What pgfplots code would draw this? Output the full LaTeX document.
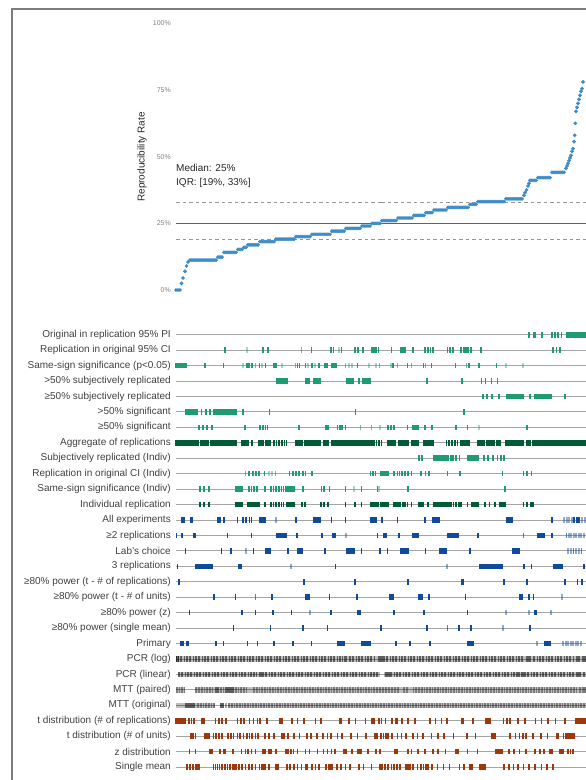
\documentclass[border=0pt]{standalone}
\usepackage{fontspec}
\setmainfont{Liberation Sans}
\usepackage{pgfplots}
\usepackage{pgfplotstable}
\pgfplotsset{compat=1.18}
\definecolor{cgreen}{RGB}{30,155,115}
\definecolor{cdgreen}{RGB}{0,92,55}
\definecolor{cblue}{RGB}{16,74,156}
\definecolor{cbrown}{RGB}{158,56,10}
\definecolor{cpt}{RGB}{60,140,200}
\definecolor{ctxt}{RGB}{64,64,64}
\definecolor{cline}{RGB}{165,165,165}
\definecolor{ctick}{RGB}{130,130,130}
\definecolor{cborder}{RGB}{125,125,125}
\definecolor{cdash}{RGB}{150,150,150}
\definecolor{cmed}{RGB}{225,45,35}
\pgfplotsset{
  seg/.style 2 args={draw=none, mark=none, error bars/.cd, x dir=both, x explicit, error mark=none,
    error bar style={draw=#1, line width=5.6pt, line cap=butt, opacity=#2}},
}

\pgfplotstableread[row sep=\\]{
r a b\\
1 352.7 352.7\\1 357.7 357.7\\1 359.3 359.3\\1 366 366\\1 375.7 375.7\\1 378.7 378.7\\1 382 382\\1 385.3 385.3\\1 390.3 410\\
2 48.7 48.7\\2 86.7 86.7\\2 92 92\\2 135.3 135.3\\2 154.7 154.7\\2 157.3 157.3\\2 165.3 165.3\\2 178.7 178.7\\2 182 182\\2 186.7 186.7\\2 196 196\\2 198 198\\2 200 200\\2 202.3 202.3\\2 215.3 215.3\\2 224.7 224.7\\2 226.7 226.7\\2 228.7 228.7\\2 236.7 236.7\\2 248.7 248.7\\2 252 252\\2 254.3 254.3\\2 256.7 256.7\\2 271.3 271.3\\2 274 274\\2 276.7 276.7\\2 284.7 284.7\\2 288 288\\2 290 290\\2 292 292\\2 294.7 294.7\\2 304.7 304.7\\2 377 377\\2 380.3 380.3\\2 383.7 383.7\\
3 0 10\\3 28.7 28.7\\3 47.3 47.3\\3 70.7 70.7\\3 72.7 72.7\\3 76 76\\3 83.3 83.3\\3 89.3 89.3\\3 97.7 97.7\\3 100 100\\3 121.3 121.3\\3 123.3 123.3\\3 129.3 129.3\\3 136 136\\3 142.7 142.7\\3 148.7 148.7\\3 150.7 150.7\\3 156 160\\3 181.3 181.3\\3 217 217\\3 231.3 231.3\\3 247.3 247.3\\3 255.3 255.3\\3 279.3 279.3\\3 292.7 292.7\\3 303 303\\3 320.3 320.3\\
4 101 101\\4 103 103\\4 105 105\\4 107 107\\4 109 109\\4 111 111\\4 130 133.3\\4 137.3 140\\4 141 144.7\\4 171 177.7\\4 182.7 182.7\\4 186.7 189\\4 190.5 194\\4 251 251\\4 286 286\\4 305.3 305.3\\4 309.3 309.3\\4 315.3 315.3\\4 321.3 321.3\\
5 307 307\\5 311 311\\5 316 316\\5 322.7 322.7\\5 330.3 347\\5 353.7 353.7\\5 358.7 360.5\\5 362 375.3\\5 388.7 388.7\\
6 10 21\\6 25.3 25.3\\6 30 30\\6 34 34\\6 37.3 48\\6 49.3 60\\6 66.7 66.7\\6 93.3 93.3\\6 179.3 179.3\\6 287.7 287.7\\
7 22.7 22.7\\7 26.7 26.7\\7 30.7 30.7\\7 36 36\\7 68.7 68.7\\7 84 84\\7 86.7 86.7\\7 89.3 89.3\\7 91.3 91.3\\7 122.7 122.7\\7 150 150\\7 152 152\\7 161.3 161.3\\7 163.7 163.7\\7 166 166\\7 169.3 169.3\\7 212 212\\7 215 215\\7 218 218\\7 231.3 231.3\\7 237 242\\7 248.7 248.7\\7 256 256\\7 279.7 279.7\\7 291.3 291.3\\7 351 351\\
9 242.7 242.7\\9 246 246\\9 257.3 270\\9 272 272\\9 274.5 274.5\\9 277 277\\9 280 280\\9 283.3 283.3\\9 292 296\\9 297.5 302\\9 308 308\\9 312 312\\9 316.7 316.7\\9 321.3 321.3\\9 324.7 324.7\\9 328 328\\
10 72.7 72.7\\10 76.7 76.7\\10 79.7 79.7\\10 82.7 82.7\\10 88.3 88.3\\10 113.3 113.3\\10 116.7 116.7\\10 120 120\\10 122.7 122.7\\10 126.7 126.7\\10 129.3 129.3\\10 136 136\\10 194.3 194.3\\10 196.7 196.7\\10 199.3 199.3\\10 204.7 212\\10 218 218\\10 221.3 221.3\\10 223.3 223.3\\10 226 226\\10 229 229\\10 232 232\\10 235.3 235.3\\10 244.7 244.7\\10 249.3 249.3\\10 252.7 252.7\\10 271.3 271.3\\10 284 284\\10 326.3 326.3\\10 347.3 347.3\\10 350.7 350.7\\10 355.3 355.3\\
11 24 24\\11 28 28\\11 32.7 32.7\\11 60 66\\11 72.7 72.7\\11 75.3 75.3\\11 78 78\\11 81 81\\11 88.7 88.7\\11 94.7 94.7\\11 97.3 97.3\\11 100 100\\11 102.7 102.7\\11 105.3 105.3\\11 107.3 107.3\\11 109.3 118\\11 126.7 126.7\\11 145.3 145.3\\11 148 148\\11 153.3 153.3\\11 169.3 169.3\\11 185.3 185.3\\11 201.3 201.3\\11 232 232\\11 328.7 328.7\\
}\greentab

\pgfplotstableread[row sep=\\]{
r a b\\
2 70.7 70.7\\2 125.3 125.3\\2 162.7 162.7\\3 66.7 66.7\\3 79.3 79.3\\3 86 86\\3 106 106\\3 119.3 119.3\\3 132 132\\3 138.7 138.7\\3 169.3 169.3\\3 172.7 172.7\\3 176 176\\3 192.7 192.7\\3 200 200\\3 203.5 203.5\\3 214.7 214.7\\3 221.3 221.3\\3 235.3 235.3\\3 249.3 249.3\\3 290.3 290.3\\3 329.7 329.7\\3 347 347\\7 184.3 184.3\\7 195.3 195.3\\7 203.7 203.7\\7 302.7 302.7\\10 69.3 69.3\\10 92.7 92.7\\10 96 96\\10 99.3 99.3\\11 178 178\\11 203 203\\
}\greenlight

\pgfplotstableread[row sep=\\]{
r a b\\
8 0 22.7\\8 24.3 32.7\\8 34.3 60\\8 66 72\\8 76 76\\8 82.7 87.7\\8 89.3 94.3\\8 97.7 97.7\\8 100.3 100.3\\8 103 103\\8 105.7 105.7\\8 108.3 108.3\\8 110.5 110.5\\8 119.3 126\\8 128.7 144.7\\8 148 152.7\\8 155.3 170.5\\8 171.5 184\\8 185.5 194\\8 195.7 195.7\\8 198 198\\8 200.5 200.5\\8 203 203\\8 205.3 205.3\\8 212 219.3\\8 222.7 232\\8 235.3 242.7\\8 247.3 257.3\\8 270.3 270.3\\8 273 273\\8 276 276\\8 279 279\\8 281.3 281.3\\8 284.7 291.3\\8 292.7 292.7\\8 302 308.7\\8 310.3 318.7\\8 320.3 324.7\\8 330 347.3\\8 350.7 354.7\\8 356.7 410\\
12 24 24\\12 28 28\\12 32.7 32.7\\12 60 66.7\\12 72 76\\12 77.5 80\\12 81.5 83.3\\12 88.7 88.7\\12 94.7 94.7\\12 97.3 97.3\\12 100 100\\12 102.7 102.7\\12 105.3 105.3\\12 107.3 107.3\\12 110.7 118.7\\12 126 126\\12 128.7 128.7\\12 144.7 144.7\\12 148 148\\12 152 152\\12 169.3 169.3\\12 178.7 178.7\\12 185.3 185.3\\12 194.7 197\\12 198.5 202.7\\12 204.7 212\\12 218 224.7\\12 226.7 226.7\\12 229 229\\12 231.5 231.5\\12 235.3 235.3\\12 242.7 247.3\\12 252 252\\12 257.3 271.3\\12 272.7 272.7\\12 275 275\\12 277.3 277.3\\12 280 280\\12 282.5 282.5\\12 284.7 284.7\\12 291.3 291.3\\12 295.3 302\\12 308.7 308.7\\12 313.3 313.3\\12 318.7 318.7\\12 324 329.3\\12 347.3 347.3\\12 350.7 350.7\\12 354.7 354.7\\12 356.7 356.7\\
}\dgreentab

\pgfplotstableread[row sep=\\]{
r a b\\
13 6 6\\13 8 8\\13 14.7 16.7\\13 42 42\\13 44 44\\13 48 48\\13 61.3 61.3\\13 66.7 66.7\\13 70 70\\13 73.3 73.3\\13 75.3 75.3\\13 83.3 89.3\\13 120 120\\13 137.3 144.7\\13 155.3 155.3\\13 169.3 169.3\\13 194.7 200.7\\13 206 206\\13 221.3 221.3\\13 248.7 248.7\\13 256.7 263.7\\13 330.7 336.7\\13 376 376\\13 398 398\\13 400.5 400.5\\13 403 403\\
14 0.5 0.5\\14 6 6\\14 17.3 19.3\\14 51.3 51.3\\14 75.3 75.3\\14 100.7 110.7\\14 120.7 120.7\\14 146 146\\14 156.7 156.7\\14 158.7 158.7\\14 201.3 201.3\\14 208 210\\14 222.7 222.7\\14 236.7 242\\14 272 282\\14 302 302\\14 361.3 368\\14 376 376\\
15 9.3 9.3\\15 45.3 45.3\\15 54.7 54.7\\15 77.3 77.3\\15 89.3 94\\15 112 112\\15 121.3 126\\15 148.7 148.7\\15 170.7 178\\15 185.3 185.3\\15 203.7 203.7\\15 211.3 211.3\\15 224.7 232\\15 249.3 249.3\\15 264 270.7\\15 293.7 293.7\\15 337 343\\
16 1.3 1.3\\16 20 36.7\\16 62.7 65.3\\16 159.3 159.3\\16 303.7 326.3\\16 348 348\\16 355.3 355.3\\16 377.3 386\\16 408 408\\
17 2.7 2.7\\17 128 128\\17 178.7 178.7\\17 232 232\\17 285.3 287.3\\17 328 328\\17 350.7 350.7\\17 388.7 388.7\\17 401.3 401.3\\17 406 406\\
18 37.7 37.7\\18 59.3 59.3\\18 96 96\\18 129.3 133.3\\18 153.3 153.3\\18 180.7 180.7\\18 213.3 217.3\\18 242.7 246.7\\18 252.7 252.7\\18 289.3 289.3\\18 344 346\\18 352.7 352.7\\18 357.3 357.3\\
19 13.3 13.3\\19 66 66\\19 79.3 79.3\\19 97 97\\19 115.3 115.3\\19 154.7 154.7\\19 182 184.7\\19 218 218\\19 247.7 247.7\\19 291.3 291.3\\19 358.7 360\\
20 57.3 57.3\\20 94.3 94.3\\20 126.7 126.7\\20 151.3 151.3\\20 204.7 204.7\\20 251 251\\20 283 283\\20 294.7 294.7\\20 353.7 353.7\\
21 4.7 4.7\\21 6.7 6.7\\21 10.7 12.7\\21 40 40\\21 47.3 47.3\\21 71.3 71.3\\21 81.3 81.3\\21 98 98\\21 116.7 116.7\\21 135.3 135.3\\21 162 168.7\\21 186 194.7\\21 219.7 219.7\\21 234 234\\21 254 254\\21 291.3 297.3\\21 368.7 374.7\\
}\bluetab

\pgfplotstableread[row sep=\\]{
r a b\\
13 100 100\\13 388 388\\13 390.5 390.5\\13 393 393\\13 395.5 395.5\\13 405.5 405.5\\13 408.7 408.7\\14 170 170\\14 347.3 347.3\\14 390.3 390.3\\14 392.7 392.7\\14 395 395\\14 397.5 397.5\\14 400 400\\14 402.5 402.5\\14 405 405\\14 407.5 407.5\\15 70 70\\15 392 392\\15 394.7 394.7\\15 397.3 397.3\\15 400 400\\15 402.7 402.7\\15 405.3 405.3\\16 114.7 114.7\\16 271 271\\18 79.3 79.3\\18 386 386\\19 133.7 133.7\\19 329.7 329.7\\19 352.7 352.7\\19 374.7 374.7\\20 271.3 271.3\\20 327 327\\21 360.7 360.7\\21 387 387\\21 389.5 389.5\\21 392 392\\21 394.5 394.5\\21 397 397\\21 399.5 399.5\\21 402 402\\21 405 405\\
}\bluelight

\pgfplotstableread[row sep=\\]{
r a b\\
26 0 9.3\\26 12.7 12.7\\26 15.3 15.3\\26 18 18\\26 25.3 28\\26 39.3 39.3\\26 42.7 42.7\\26 46 46\\26 50 50\\26 61.3 61.3\\26 64.7 64.7\\26 68 68\\26 73.3 73.3\\26 77.3 77.3\\26 81.3 81.3\\26 84 84\\26 90.7 90.7\\26 104 106\\26 116 116\\26 121.3 121.3\\26 128 128\\26 139.3 139.3\\26 144.7 144.7\\26 164 165.3\\26 172.7 172.7\\26 179.3 179.3\\26 189.3 189.3\\26 195.3 198\\26 202.7 202.7\\26 205.3 205.3\\26 209.3 209.3\\26 216 216\\26 220 221.3\\26 226 226\\26 232 232\\26 238.7 238.7\\26 254 254\\26 259.3 259.3\\26 265.3 265.3\\26 270.7 270.7\\26 285.3 287.3\\26 296.7 296.7\\26 309.3 314\\26 327.3 327.3\\26 330.7 330.7\\26 334 334\\26 342 342\\26 348.7 348.7\\26 359.3 359.3\\26 365.3 365.3\\26 372 372\\26 379.3 379.3\\26 388.7 388.7\\26 399.3 410\\
27 14.7 14.7\\27 16.7 16.7\\27 19.3 19.3\\27 28.7 33.3\\27 37.3 37.3\\27 40 40\\27 42.7 42.7\\27 46 46\\27 52 52\\27 54.7 54.7\\27 57.3 57.3\\27 61.3 61.3\\27 64 64\\27 67.3 67.3\\27 70.7 70.7\\27 73.3 73.3\\27 76 76\\27 79.3 79.3\\27 82 82\\27 88.7 88.7\\27 92.7 92.7\\27 98 98\\27 106 108.7\\27 112 112\\27 118 118\\27 123.3 123.3\\27 130.7 130.7\\27 134.7 134.7\\27 140.7 140.7\\27 146.7 146.7\\27 151.3 151.3\\27 154.7 154.7\\27 161.3 161.3\\27 166 166\\27 174.7 174.7\\27 181.3 181.3\\27 190 190\\27 198.7 201.3\\27 204.7 204.7\\27 207.3 207.3\\27 209.7 209.7\\27 212 212\\27 216 216\\27 221.3 221.3\\27 225.3 225.3\\27 230 230\\27 236.7 236.7\\27 241.3 241.3\\27 246.7 246.7\\27 255.3 255.3\\27 262 262\\27 268 268\\27 277.3 277.3\\27 290.7 290.7\\27 299.3 299.3\\27 315.3 319.3\\27 334 334\\27 339.3 339.3\\27 343.3 343.3\\27 346.7 346.7\\27 350 350\\27 356.7 356.7\\27 364.7 364.7\\27 371.3 371.3\\27 380.7 382.7\\27 387.3 387.3\\27 389.5 389.5\\27 391.7 391.7\\27 394 394\\27 396 396\\27 398 398\\
28 13.3 13.3\\28 19.3 19.3\\28 34 36.7\\28 44 44\\28 48 49.3\\28 56.7 56.7\\28 65.3 65.3\\28 69.3 69.3\\28 72 72\\28 75.3 75.3\\28 79.3 79.3\\28 86.7 89.3\\28 92.7 95.3\\28 100 100\\28 110 112\\28 114.7 114.7\\28 117.3 117.3\\28 121.3 121.3\\28 129.3 129.3\\28 133.3 133.3\\28 141.3 141.3\\28 147.3 147.3\\28 151.3 151.3\\28 155.3 155.3\\28 158.7 158.7\\28 168 170\\28 176 176\\28 182 185.3\\28 192 192\\28 200 200\\28 203.7 203.7\\28 218.7 218.7\\28 220.7 220.7\\28 232 232\\28 235.3 235.3\\28 242 242\\28 248.7 248.7\\28 256.7 256.7\\28 262 262\\28 269.3 269.3\\28 279.3 282\\28 291.3 291.3\\28 301.3 301.3\\28 320 326\\28 332.7 332.7\\28 338 338\\28 343.3 343.3\\28 350 350\\28 358.7 358.7\\28 364 364\\28 368 368\\28 373.3 376\\28 384 387.3\\28 392 392\\28 394.3 394.3\\28 396.7 396.7\\
29 10.7 10.7\\29 14 14\\29 16.7 16.7\\29 19.3 23.3\\29 37.3 37.3\\29 39.3 39.3\\29 41.3 41.3\\29 43.3 43.3\\29 46 46\\29 48.7 48.7\\29 51.3 51.3\\29 54 54\\29 56.7 60\\29 62.7 62.7\\29 66 66\\29 69.3 69.3\\29 72.7 72.7\\29 76 76\\29 79.3 79.3\\29 83.3 83.3\\29 86 89.3\\29 92.7 92.7\\29 100 102.7\\29 110.7 110.7\\29 114 114\\29 118 118\\29 121.3 121.3\\29 125.3 125.3\\29 129.3 131.3\\29 136 136\\29 139.3 139.3\\29 142.7 142.7\\29 150 150\\29 152.7 156\\29 160.7 160.7\\29 164.7 164.7\\29 169.3 169.3\\29 174 174\\29 182.7 182.7\\29 187.3 187.3\\29 195.3 195.3\\29 204 204\\29 206 206\\29 208.7 208.7\\29 212 212\\29 215.3 215.3\\29 218 218\\29 220.7 220.7\\29 224 224\\29 230 234\\29 236.7 236.7\\29 241.3 241.3\\29 244.7 244.7\\29 247.3 247.3\\29 249.7 249.7\\29 252 252\\29 256 256\\29 261.3 261.3\\29 267.3 267.3\\29 273.3 273.3\\29 283.3 283.3\\29 288 288\\29 294 296\\29 304 309.3\\29 328 328\\29 332.7 332.7\\29 337.3 337.3\\29 342 342\\29 347.3 347.3\\29 352.7 352.7\\29 358.7 358.7\\29 365.3 365.3\\29 370.7 370.7\\29 376.7 376.7\\
}\browntab

\pgfplotstableread[row sep=\\]{
r a b\\
22 0 410\\23 2 204.5\\23 208 410\\24 0 9.5\\24 19 410\\25 0 39.3\\25 44 48\\25 52 410\\
}\grayband

\pgfplotstableread[row sep=\\]{
r a b\\
22 0 2.7\\22 168 171\\22 202 208.7\\22 350 355\\22 400 404\\23 83 88\\23 208.7 213.7\\23 345.3 350.3\\23 400.3 405.3\\24 39.3 42.7\\24 49.3 57.7\\25 9.3 19.3\\25 44 48\\
}\graydark

% reference lines: median and quartiles, drawn from x=0 to x=410
\pgfplotstableread[row sep=\\]{
lo mid hi\\
19 25 33\\
}\refline

\begin{document}
\begin{tikzpicture}
\useasboundingbox (0pt,0pt) rectangle (586pt,780pt);
\clip (0pt,0pt) rectangle (586pt,780pt);
\draw[line width=1.5pt, color=cborder] (12pt,0pt) -- (12pt,771pt) -- (590pt,771pt);

% ---------- top panel ----------
\begin{axis}[
  at={(176pt,490pt)}, anchor=south west,
  scale only axis, width=410pt, height=266.7pt,
  xmin=0, xmax=410, ymin=0, ymax=100, clip=false,
  axis line style={draw=none}, tick style={draw=none},
  xtick=\empty, ytick={0,25,50,75,100},
  yticklabel={\pgfmathprintnumber{\tick}\%},
  /pgf/number format/assume math mode=true,
  yticklabel style={font=\fontsize{7}{8}\selectfont, text=ctick, anchor=east, inner sep=0pt, xshift=-5pt},
]
\addplot[only marks, mark=*, mark size=1.7pt, color=cpt] coordinates {
(0,0)(2,0)(4,0)(5.5,2.5)(7,4.5)(9,7)(10.5,9)(12,10.5)
(14,11.2)(16,11.2)(18,11.2)(20,11.2)(22,11.2)(24,11.2)(26,11.2)(28,11.2)(30,11.2)(32,11.2)(34,11.2)(36,11.2)(38,11.2)(40,11.2)
(42,12.3)(44,12.3)(46,12.3)
(48,14.1)(50,14.1)(52,14.1)(54,14.1)(56,14.1)(58,14.1)(60,14.1)
(62,15.2)(64,15.2)(66,15.2)
(68,16)(70,16)
(72,16.9)(74,16.9)(76,16.9)(78,16.9)(80,16.9)(82,16.9)
(84,18.1)(86,18.1)(88,18.1)(90,18.1)(92,18.1)(94,18.1)(96,18.1)(98,18.1)
(100,19.1)(102,19.1)(104,19.1)(106,19.1)(108,19.1)(110,19.1)(112,19.1)(114,19.1)(116,19.1)(118,19.1)
(120,20)(122,20)(124,20)(126,20)(128,20)(130,20)(132,20)(134,20)
(136,20.9)(138,20.9)(140,20.9)(142,20.9)(144,20.9)(146,20.9)(148,20.9)(150,20.9)(152,20.9)(154,20.9)
(156,22.1)(158,22.1)(160,22.1)(162,22.1)(164,22.1)(166,22.1)(168,22.1)
(170,23.1)(172,23.1)(174,23.1)(176,23.1)(178,23.1)(180,23.1)(182,23.1)(184,23.1)
(186,24)(188,24)(190,24)(192,24)(194,24)
(196,25)(198,25)(200,25)(202,25)(204,25)
(206,26)(208,26)(210,26)(212,26)(214,26)(216,26)(218,26)(220,26)
(222,27)(224,27)(226,27)(228,27)(230,27)(232,27)(234,27)(236,27)
(238,28)(240,28)(242,28)(244,28)(246,28)(248,28)
(250,29)(252,29)(254,29)(256,29)
(258,30)(260,30)(262,30)(264,30)(266,30)(268,30)(270,30)
(272,31)(274,31)(276,31)(278,31)(280,31)(282,31)(284,31)(286,31)(288,31)(290,31)(292,31)
(294,32.1)(296,32.1)(298,32.1)(300,32.1)
(302,33.1)(304,33.1)(306,33.1)(308,33.1)(310,33.1)(312,33.1)(314,33.1)(316,33.1)(318,33.1)(320,33.1)(322,33.1)(324,33.1)(326,33.1)(328,33.1)
(330,34.2)(332,34.2)(334,34.2)(336,34.2)(338,34.2)(340,34.2)(342,34.2)(344,34.2)(346,34.2)
(348,35.5)(349,36.5)(350.5,37.5)(352,39)(353,40)
(354,41.1)(356,41.1)(358,41.1)(360,41.1)
(362,42.1)(364,42.1)(366,42.1)(368,42.1)(370,42.1)(372,42.1)(374,42.1)
(376,44.1)(378,44.1)(380,44.1)(382,44.1)(384,44.1)(386,44.1)(388,44.1)
(390,45.6)(391,46.5)(392,47.5)(393,48.5)(394,49.5)(395,50.5)(396,52)(397,53)(398,55.6)(398.7,58)(399.3,62.5)(400,67)(401,68.5)(402,70)(403,71.5)(404,73)(405,74.5)(406,75.5)(407,78)
};
\addplot[draw=none, mark=none, error bars/.cd, x dir=both, x explicit, error mark=none,
  error bar style={draw=cdash, line width=0.8pt, line cap=butt, dash pattern=on 3.5pt off 3pt}]
  table[x expr=205, y=lo, x error expr=205] {\refline};
\addplot[draw=none, mark=none, error bars/.cd, x dir=both, x explicit, error mark=none,
  error bar style={draw=cdash, line width=0.8pt, line cap=butt, dash pattern=on 3.5pt off 3pt}]
  table[x expr=205, y=hi, x error expr=205] {\refline};
\addplot[draw=none, mark=none, error bars/.cd, x dir=both, x explicit, error mark=none,
  error bar style={draw=cmed, line width=0.9pt, line cap=butt}]
  table[x expr=205, y=mid, x error expr=205] {\refline};
\node[anchor=west, inner sep=0pt, font=\fontsize{10}{12}\selectfont, text=black!85] at (axis cs:0,45.7) {Median: 25\%};
\node[anchor=west, inner sep=0pt, font=\fontsize{10}{12}\selectfont, text=black!85] at (axis cs:0,40.1) {IQR: [19\%, 33\%]};
\end{axis}
\node[rotate=90, inner sep=0pt, font=\fontsize{10}{12}\selectfont, text=black!85] at (142pt,623pt) {Reproducibility Rate};

% ---------- bottom panel ----------
\begin{axis}[
  at={(176pt,5.2pt)}, anchor=south west,
  scale only axis, width=410pt, height=447.8pt,
  xmin=0, xmax=410, ymin=0.5, ymax=29.5, y dir=reverse, clip=false,
  axis line style={draw=none}, tick style={draw=none},
  xtick=\empty, ytick={1,...,29},
  yticklabels={
    {Original in replication 95\% PI},
    {Replication in original 95\% CI},
    {Same-sign significance (p<0.05)},
    {>50\% subjectively replicated},
    {≥50\% subjectively replicated},
    {>50\% significant},
    {≥50\% significant},
    {Aggregate of replications},
    {Subjectively replicated (Indiv)},
    {Replication in original CI (Indiv)},
    {Same-sign significance (Indiv)},
    {Individual replication},
    {All experiments},
    {≥2 replications},
    {Lab's choice},
    {3 replications},
    {≥80\% power (t - \# of replications)},
    {≥80\% power (t - \# of units)},
    {≥80\% power (z)},
    {≥80\% power (single mean)},
    {Primary},
    {PCR (log)},
    {PCR (linear)},
    {MTT (paired)},
    {MTT (original)},
    {t distribution (\# of replications)},
    {t distribution (\# of units)},
    {z distribution},
    {Single mean}},
  yticklabel style={font=\fontsize{10}{12}\selectfont, text=ctxt, anchor=east, inner sep=0pt, xshift=-5pt},
  ymajorgrids, grid style={color=cline, line width=0.9pt},
]
\addplot[seg={cgreen}{1}]
  table[x expr={(\thisrow{a}+\thisrow{b})/2}, y=r, x error expr={(\thisrow{b}-\thisrow{a})/2+0.7}] {\greentab};
\addplot[seg={cgreen}{0.4}]
  table[x expr={(\thisrow{a}+\thisrow{b})/2}, y=r, x error expr={(\thisrow{b}-\thisrow{a})/2+0.7}] {\greenlight};
\addplot[seg={cdgreen}{1}]
  table[x expr={(\thisrow{a}+\thisrow{b})/2}, y=r, x error expr={(\thisrow{b}-\thisrow{a})/2+0.7}] {\dgreentab};
\addplot[seg={cblue}{1}]
  table[x expr={(\thisrow{a}+\thisrow{b})/2}, y=r, x error expr={(\thisrow{b}-\thisrow{a})/2+0.7}] {\bluetab};
\addplot[seg={cblue}{0.45}]
  table[x expr={(\thisrow{a}+\thisrow{b})/2}, y=r, x error expr={(\thisrow{b}-\thisrow{a})/2+0.7}] {\bluelight};
\addplot[seg={cbrown}{1}]
  table[x expr={(\thisrow{a}+\thisrow{b})/2}, y=r, x error expr={(\thisrow{b}-\thisrow{a})/2+0.7}] {\browntab};
\addplot[seg={black}{0.25}]
  table[x expr={(\thisrow{a}+\thisrow{b})/2}, y=r, x error expr={(\thisrow{b}-\thisrow{a})/2}] {\grayband};
\addplot[seg={black}{0.5}]
  table[x expr={(\thisrow{a}+\thisrow{b})/2}, y=r, x error expr={(\thisrow{b}-\thisrow{a})/2}] {\graydark};
% dark stripes in the gray rows
\addplot[only marks, mark=|, mark size=2.8pt, mark options={line width=1.2pt}, color=black, opacity=0.5]
  table[row sep=\\, header=false, x index=0, y expr=22] {0.8\\2.2\\5\\8.5\\11\\14\\17.5\\20\\23\\26.5\\29\\32\\35.5\\38\\41\\44.5\\47\\50\\53.5\\56\\59\\62.5\\65\\68\\71.5\\74\\77\\80.5\\83\\86\\89.5\\92\\95\\98.5\\101\\104\\107.5\\110\\113\\116.5\\119\\122\\125.5\\128\\131\\134.5\\137\\140\\143.5\\146\\149\\152.5\\155\\158\\161.5\\164\\166.5\\174\\177\\180.5\\183\\186\\189.5\\192\\195\\198.5\\211\\214.5\\217\\220\\223.5\\226\\229\\232.5\\235\\238\\241.5\\244\\247\\250.5\\253\\256\\259.5\\262\\265\\268.5\\271\\274\\277.5\\280\\283\\286.5\\289\\292\\295.5\\298\\301\\304.5\\307\\310\\313.5\\316\\319\\322.5\\325\\328\\331.5\\334\\337\\340.5\\343\\346\\358\\361.5\\364\\367\\370.5\\373\\376\\379.5\\382\\385\\388.5\\391\\394\\397.5\\407\\409\\};
\addplot[only marks, mark=|, mark size=2.8pt, mark options={line width=1.2pt}, color=black, opacity=0.5]
  table[row sep=\\, header=false, x index=0, y expr=23] {3\\6\\9.5\\12\\15\\18.5\\21\\24\\27.5\\30\\33\\36.5\\39\\42\\45.5\\48\\51\\54.5\\57\\60\\63.5\\66\\69\\72.5\\75\\78\\80.5\\90\\93.5\\96\\99\\102.5\\105\\108\\111.5\\114\\117\\120.5\\123\\126\\129.5\\132\\135\\138.5\\141\\144\\147.5\\150\\153\\156.5\\159\\162\\165.5\\168\\171\\174.5\\177\\180\\183.5\\186\\189\\192.5\\195\\198\\201\\215\\218.5\\221\\224\\227.5\\230\\233\\236.5\\239\\242\\245.5\\248\\251\\254.5\\257\\260\\263.5\\266\\269\\272.5\\275\\278\\281.5\\284\\287\\290.5\\293\\296\\299.5\\302\\305\\308.5\\311\\314\\317.5\\320\\323\\326.5\\329\\332\\335.5\\338\\341\\343\\352\\355.5\\358\\361\\364.5\\367\\370\\373.5\\376\\379\\382.5\\385\\388\\391.5\\394\\397\\408\\};
\addplot[only marks, mark=|, mark size=2.8pt, mark options={line width=1.1pt}, color=black, opacity=0.35]
  table[row sep=\\, header=false, x index=0, y expr=24] {1\\3.5\\6\\8.5\\20\\23\\26\\28.5\\31\\34\\36.5\\45\\47.5\\60\\62.5\\65\\68\\70.5\\78\\81\\83.5\\86\\89\\91.5\\94\\97\\99.5\\102\\105\\107.5\\110\\113\\115.5\\118\\121\\123.5\\126\\129\\131.5\\134\\137\\139.5\\142\\145\\147.5\\150\\153\\155.5\\158\\161\\163.5\\166\\169\\171.5\\174\\177\\179.5\\182\\185\\187.5\\190\\193\\195.5\\198\\201\\204\\207\\210\\213\\216\\219\\222\\228\\231\\237.5\\240\\243\\246\\248.5\\251\\254\\256.5\\259\\262\\264.5\\267\\270\\272.5\\275\\278\\280.5\\283\\286\\288.5\\291\\294\\296.5\\299\\302\\304.5\\307\\310\\312.5\\315\\318\\320.5\\323\\326\\328.5\\331\\334\\336.5\\339\\342\\344.5\\347\\350\\352.5\\355\\358\\360.5\\363\\366\\368.5\\371\\374\\376.5\\379\\382\\384.5\\387\\390\\392.5\\395\\398\\400.5\\404\\407\\409\\};
\addplot[only marks, mark=|, mark size=2.8pt, mark options={line width=1.1pt}, color=black, opacity=0.35]
  table[row sep=\\, header=false, x index=0, y expr=25] {22\\25\\27.5\\30\\33\\35.5\\38\\50\\53\\56\\58.5\\61\\64\\66.5\\69\\72\\74.5\\77\\80\\82.5\\85\\88\\90.5\\93\\96\\98.5\\101\\104\\106.5\\109\\112\\114.5\\117\\120\\122.5\\125\\128\\130.5\\133\\136\\138.5\\141\\144\\146.5\\149\\152\\154.5\\157\\160\\162.5\\165\\168\\170.5\\173\\176\\178.5\\181\\184\\186.5\\189\\192\\194.5\\197\\200\\202.5\\205\\208\\210.5\\213\\216\\218.5\\221\\224\\226.5\\229\\232\\234.5\\237\\240\\242.5\\245\\248\\250.5\\253\\256\\258.5\\261\\264\\266.5\\269\\272\\274.5\\277\\280\\282.5\\285\\288\\290.5\\293\\296\\298.5\\301\\304\\306.5\\309\\312\\314.5\\317\\320\\322.5\\325\\328\\330.5\\333\\336\\338.5\\341\\344\\346.5\\349\\352\\354.5\\357\\360\\362.5\\365\\368\\370.5\\373\\376\\378.5\\381\\384\\386.5\\389\\392\\394.5\\397\\400\\402.5\\405\\408\\};
\end{axis}
\end{tikzpicture}
\end{document}
